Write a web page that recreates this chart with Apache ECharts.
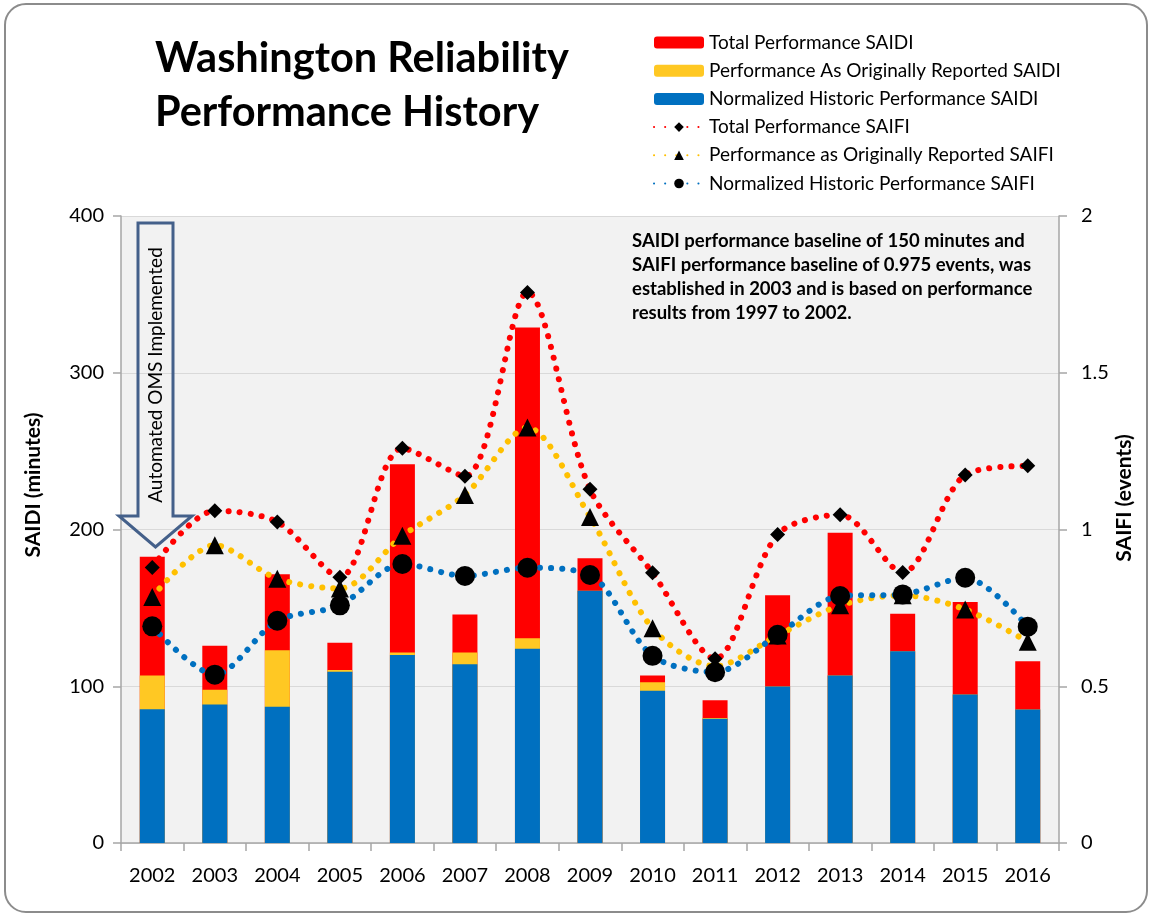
<!DOCTYPE html>
<html>
<head>
<meta charset="utf-8">
<script src="https://cdn.jsdelivr.net/npm/echarts@6/dist/echarts.min.js"></script>
<style>
html,body{margin:0;padding:0;background:#fff;}
#frame{position:absolute;left:4px;top:3px;width:1140px;height:906px;border:2px solid #8c8c8c;border-radius:22px;}
#chart{position:absolute;left:0;top:0;width:1149px;height:918px;}
</style>
</head>
<body>
<div id="frame"></div>
<div id="chart"></div>
<script>
const years = ['2002','2003','2004','2005','2006','2007','2008','2009','2010','2011','2012','2013','2014','2015','2016'];
const totalSAIDI    = [182.6,125.9,171.5,127.8,241.6,145.8,328.9,181.7,106.8,91.0,158.1,197.9,146.3,153.8,116.0];
const originalSAIDI = [106.8,97.7,123.0,110.3,121.6,121.6,130.7,161.0,102.6,79.7,99.9,106.8,122.4,94.8,85.1];
const normalSAIDI   = [85.4,88.3,87.0,109.3,120.0,114.1,124.0,161.0,97.2,79.2,99.9,106.8,122.4,94.8,85.1];
const totalSAIFI    = [0.879,1.060,1.024,0.848,1.259,1.170,1.756,1.128,0.862,0.588,0.984,1.047,0.863,1.174,1.203];
const originalSAIFI = [0.785,0.950,0.843,0.812,0.980,1.110,1.325,1.040,0.685,0.564,0.662,0.758,0.790,0.745,0.642];
const normalSAIFI   = [0.691,0.537,0.709,0.758,0.890,0.852,0.878,0.855,0.597,0.545,0.664,0.788,0.793,0.846,0.690];
const saidiTicks = [0,100,200,300,400];
const saifiTicks = [0,0.5,1,1.5,2];

const FONT = 'Lato';
const chart = echarts.init(document.getElementById('chart'));
const dotted = (c) => ({color: c, width: 6, type: [0.1, 11], cap: 'round'});

const option = {
  backgroundColor: 'transparent',
  animation: false,
  textStyle: {fontFamily: FONT, color: '#000'},
  title: {
    text: 'Washington Reliability\nPerformance History',
    left: 155, top: 32, padding: 0,
    textStyle: {fontFamily: FONT, fontWeight: 'bold', fontSize: 41.5, lineHeight: 54, color: '#000'}
  },
  legend: {
    orient: 'vertical', left: 653, top: 33, padding: 0,
    itemWidth: 50, itemHeight: 12, itemGap: 9.2,
    textStyle: {fontFamily: FONT, fontSize: 19, color: '#000'},
    data: ['Total Performance SAIDI','Performance As Originally Reported SAIDI','Normalized Historic Performance SAIDI',
           'Total Performance SAIFI','Performance as Originally Reported SAIFI','Normalized Historic Performance SAIFI']
  },
  grid: {left: 121, right: 90, top: 216, bottom: 75, show: true, backgroundColor: '#f2f2f2', borderWidth: 0},
  xAxis: {
    type: 'category', data: years, boundaryGap: true,
    axisLine: {lineStyle: {color: '#a6a6a6', width: 1.5}},
    axisTick: {show: true, length: 8, alignWithLabel: false, lineStyle: {color: '#a6a6a6', width: 1.5}},
    axisLabel: {fontFamily: FONT, fontSize: 20, color: '#000', margin: 23}
  },
  yAxis: [
    {type: 'value', min: saidiTicks[0], max: saidiTicks[saidiTicks.length-1], interval: 100,
     axisLine: {show: true, lineStyle: {color: '#a6a6a6', width: 1.5}},
     axisTick: {show: true, length: 8, lineStyle: {color: '#a6a6a6', width: 1.5}},
     splitLine: {lineStyle: {color: '#d9d9d9', width: 1}},
     axisLabel: {fontFamily: FONT, fontSize: 20, color: '#000', margin: 17}},
    {type: 'value', min: saifiTicks[0], max: saifiTicks[saifiTicks.length-1], interval: 0.5,
     axisLine: {show: true, lineStyle: {color: '#a6a6a6', width: 1.5}},
     axisTick: {show: true, length: 8, lineStyle: {color: '#a6a6a6', width: 1.5}},
     splitLine: {show: false},
     axisLabel: {fontFamily: FONT, fontSize: 20, color: '#000', margin: 22}}
  ],
  graphic: [
    {type: 'text', x: 33, y: 485, rotation: Math.PI/2,
     style: {text: 'SAIDI (minutes)', font: 'bold 21px Lato', fill: '#000', align: 'center', verticalAlign: 'middle'}},
    {type: 'text', x: 1124, y: 498, rotation: Math.PI/2,
     style: {text: 'SAIFI (events)', font: 'bold 21px Lato', fill: '#000', align: 'center', verticalAlign: 'middle'}},
    {type: 'polygon', z: 50,
     shape: {points: [[138,223],[173,223],[173,516],[192,516],[155.5,547],[119,516],[138,516]]},
     style: {fill: 'rgba(242,242,242,0)', stroke: '#44608a', lineWidth: 3}},
    {type: 'text', z: 51, x: 156, y: 375, rotation: Math.PI/2,
     style: {text: 'Automated OMS Implemented', font: '19px Lato', fill: '#000', align: 'center', verticalAlign: 'middle'}},
    {type: 'text', z: 51, x: 632, y: 229,
     style: {text: 'SAIDI performance baseline of 150 minutes and\nSAIFI performance baseline of 0.975 events, was\nestablished in 2003 and is based on performance\nresults from 1997 to 2002.',
             font: 'bold 18.5px Lato', lineHeight: 24, fill: '#000'}}
  ],
  series: [
    {name: 'Total Performance SAIDI', type: 'bar', data: totalSAIDI, barWidth: 25, barGap: '-100%', itemStyle: {color: '#ff0000'}, z: 2},
    {name: 'Performance As Originally Reported SAIDI', type: 'bar', data: originalSAIDI, barWidth: 25, barGap: '-100%', itemStyle: {color: '#ffc823'}, z: 3},
    {name: 'Normalized Historic Performance SAIDI', type: 'bar', data: normalSAIDI, barWidth: 25, barGap: '-100%', itemStyle: {color: '#0070c0'}, z: 4},
    {name: 'Total Performance SAIFI', type: 'line', yAxisIndex: 1, data: totalSAIFI, smooth: 0.3,
     symbol: 'diamond', symbolSize: 15, itemStyle: {color: '#000'}, lineStyle: dotted('#ff0000'), z: 10},
    {name: 'Performance as Originally Reported SAIFI', type: 'line', yAxisIndex: 1, data: originalSAIFI, smooth: 0.3,
     symbol: 'triangle', symbolSize: 18, itemStyle: {color: '#000'}, lineStyle: dotted('#ffc000'), z: 11},
    {name: 'Normalized Historic Performance SAIFI', type: 'line', yAxisIndex: 1, data: normalSAIFI, smooth: 0.3,
     symbol: 'circle', symbolSize: 20, itemStyle: {color: '#000'}, lineStyle: dotted('#0070c0'), z: 12}
  ]
};
chart.setOption(option);
</script>
</body>
</html>
